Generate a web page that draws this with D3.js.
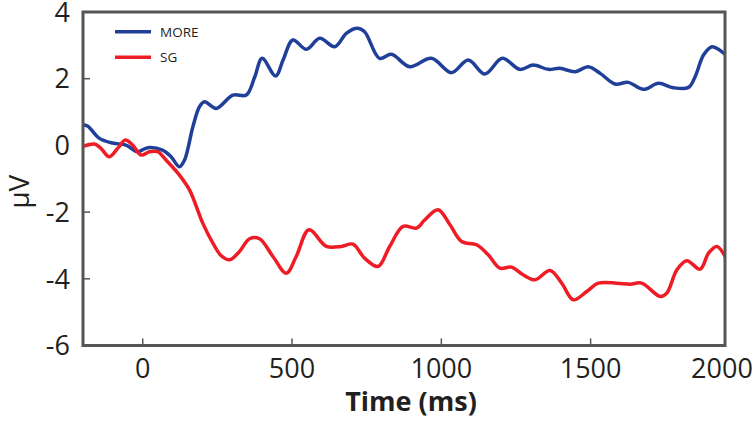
<!DOCTYPE html>
<html>
<head>
<meta charset="utf-8">
<script src="https://cdn.jsdelivr.net/npm/d3@7"></script>
<style>
  html, body { margin: 0; padding: 0; background: #fff; }
  svg { display: block; }
  text { font-family: "Open Sans", "Noto Sans", sans-serif; fill: #231f20; }
</style>
</head>
<body>
<svg id="chart" width="756" height="421"></svg>
<script>
// ---- data ----
const seriesNames = ["MORE", "SG"];
const xTickValues = [0, 500, 1000, 1500, 2000];
const yTickValues = [-6, -4, -2, 0, 2, 4];

const moreTime = [-202, -185, -145, -101, -56, -18, 17, 66, 95, 123, 140, 168, 190, 207, 246, 302, 347, 375, 400, 445, 470, 503, 548, 593, 643, 682, 718, 743, 793, 833, 894, 967, 1034, 1090, 1146, 1204, 1263, 1308, 1358, 1397, 1448, 1492, 1532, 1582, 1626, 1677, 1727, 1777, 1828, 1850, 1878, 1906, 1928, 1956];
const moreValues = [0.61, 0.58, 0.21, 0.07, 0.01, -0.19, -0.07, -0.14, -0.34, -0.64, -0.44, 0.56, 1.16, 1.31, 1.11, 1.51, 1.51, 2.05, 2.61, 2.08, 2.56, 3.16, 2.88, 3.21, 2.96, 3.36, 3.51, 3.41, 2.61, 2.73, 2.36, 2.61, 2.18, 2.56, 2.14, 2.61, 2.28, 2.41, 2.28, 2.31, 2.21, 2.36, 2.16, 1.84, 1.89, 1.68, 1.86, 1.73, 1.74, 2.06, 2.71, 2.96, 2.88, 2.68];

const sgTime = [-203, -162, -140, -112, -84, -58, -34, -5, 22, 50, 78, 123, 157, 201, 235, 263, 291, 324, 358, 391, 436, 481, 514, 557, 615, 665, 704, 743, 788, 827, 872, 917, 945, 989, 1029, 1068, 1118, 1157, 1196, 1235, 1274, 1314, 1364, 1403, 1442, 1487, 1526, 1588, 1632, 1671, 1733, 1755, 1789, 1822, 1867, 1895, 1923, 1956];
const sgValues = [-0.04, 0.04, -0.09, -0.34, -0.09, 0.16, 0.01, -0.29, -0.19, -0.19, -0.44, -0.89, -1.34, -2.33, -2.93, -3.31, -3.43, -3.18, -2.8, -2.8, -3.33, -3.83, -3.33, -2.53, -3.03, -3.03, -2.96, -3.38, -3.63, -3.03, -2.43, -2.48, -2.23, -1.93, -2.38, -2.88, -2.98, -3.28, -3.68, -3.65, -3.88, -4.03, -3.75, -4.13, -4.63, -4.38, -4.13, -4.13, -4.16, -4.13, -4.53, -4.43, -3.73, -3.46, -3.71, -3.23, -3.03, -3.43];

const seriesColors = ["#1f3f99", "#ee1c25"];

// ---- layout ----
const svg = d3.select("#chart");
const L = 83, R = 725, T = 12, B = 345.5;
const xMin = -200, xMax = 1950;

const x = d3.scaleLinear().domain([xMin, xMax]).range([L, R]);
const y = d3.scaleLinear().domain([-6, 4]).range([B, T]);

svg.append("defs").append("clipPath").attr("id", "plotclip")
  .append("rect").attr("x", L).attr("y", T).attr("width", R - L).attr("height", B - T);

const axisColor = "#555555";

// ticks (inward)
const xTickPos = v => x(Math.min(v, xMax));
const gx = svg.append("g");
xTickValues.forEach(v => {
  if (v < xMax) {
    gx.append("line").attr("x1", xTickPos(v)).attr("x2", xTickPos(v))
      .attr("y1", B).attr("y2", B - 7).attr("stroke", axisColor).attr("stroke-width", 1.5);
  }
  gx.append("text").attr("x", xTickPos(v) - (v >= xMax ? 3 : 0)).attr("y", B + 32)
    .attr("text-anchor", "middle").attr("font-size", 27).text(d3.format("d")(v));
});

const gy = svg.append("g");
yTickValues.forEach(v => {
  if (v > -6 && v < 4) {
    gy.append("line").attr("x1", L).attr("x2", L + 7)
      .attr("y1", y(v)).attr("y2", y(v)).attr("stroke", axisColor).attr("stroke-width", 1.5);
  }
  gy.append("text").attr("x", L - 13).attr("y", y(v)).attr("dy", "0.36em")
    .attr("text-anchor", "end").attr("font-size", 27).text(v);
});

// lines
const lineGen = d3.line().x(d => x(d[0])).y(d => y(d[1])).curve(d3.curveCatmullRom.alpha(0.5));
const series = [
  d3.zip(moreTime, moreValues),
  d3.zip(sgTime, sgValues)
];
const gl = svg.append("g").attr("clip-path", "url(#plotclip)");
series.forEach((s, i) => {
  gl.append("path").datum(s).attr("d", lineGen)
    .attr("fill", "none").attr("stroke", seriesColors[i]).attr("stroke-width", 3.5)
    .attr("stroke-linejoin", "round").attr("stroke-linecap", "round");
});

// box
svg.append("rect").attr("x", L).attr("y", T).attr("width", R - L).attr("height", B - T)
  .attr("fill", "none").attr("stroke", axisColor).attr("stroke-width", 3);

// legend
seriesNames.forEach((name, i) => {
  const ly = 31.7 + i * 25.6;
  svg.append("line").attr("x1", 115).attr("x2", 151).attr("y1", ly).attr("y2", ly)
    .attr("stroke", seriesColors[i]).attr("stroke-width", 3.5);
  svg.append("text").attr("x", 160).attr("y", ly).attr("dy", "0.36em")
    .attr("font-size", 13.5).text(name);
});

// axis labels
svg.append("text").attr("x", (L + R) / 2 + 7).attr("y", 411)
  .attr("text-anchor", "middle").attr("font-size", 27).attr("font-weight", "bold")
  .text("Time (ms)");
svg.append("text").attr("transform", `translate(29, ${(T + B) / 2 + 13}) rotate(-90)`)
  .attr("text-anchor", "middle").attr("font-size", 28).text("μV");
</script>
</body>
</html>
